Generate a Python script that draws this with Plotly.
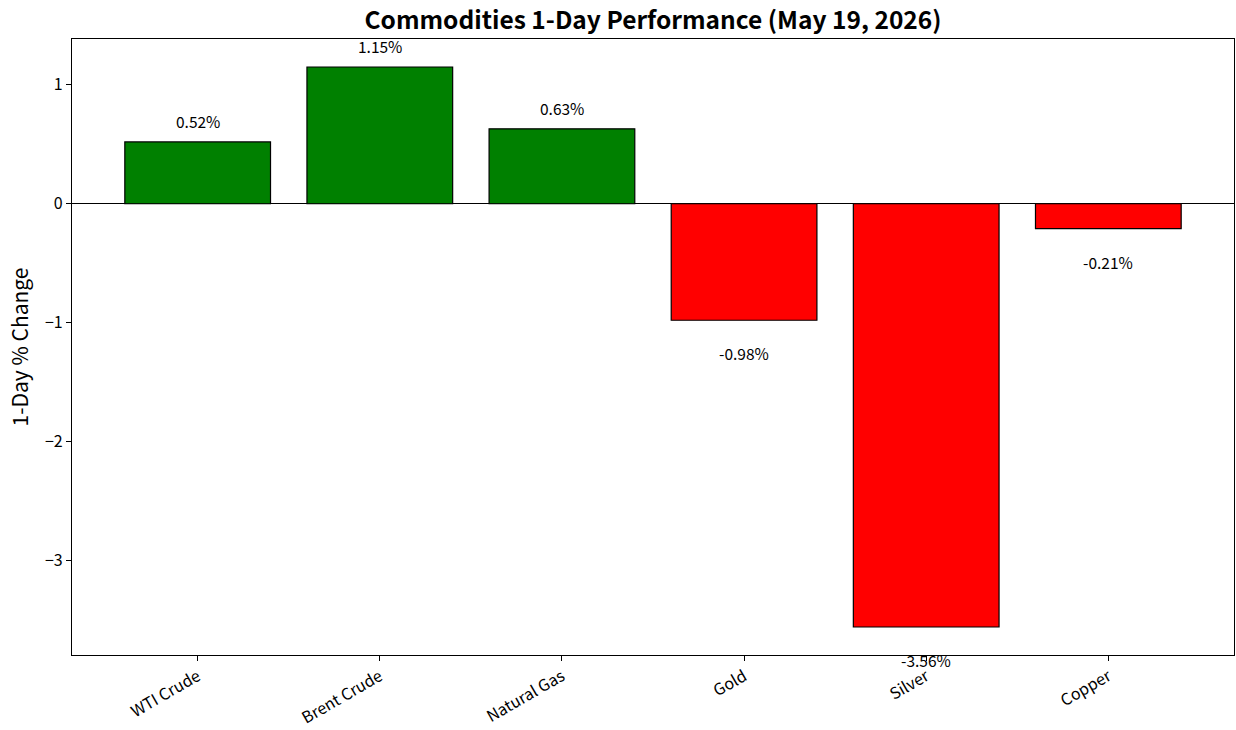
import plotly.graph_objects as go

categories = ["WTI Crude", "Brent Crude", "Natural Gas", "Gold", "Silver", "Copper"]
changes = [0.52, 1.15, 0.63, -0.98, -3.56, -0.21]
y_tick_vals = [-3, -2, -1, 0, 1]
y_tick_text = ["\u22123", "\u22122", "\u22121", "0", "1"]
title_text = "Commodities 1-Day Performance (May 19, 2026)"
y_title = "1-Day % Change"

FONT = "Noto Sans CJK JP"
colors = ["#008000" if v >= 0 else "#FF0000" for v in changes]
xs = list(range(len(categories)))

fig = go.Figure()
fig.add_trace(go.Bar(
    x=xs, y=changes, width=0.8,
    marker=dict(color=colors, line=dict(color="black", width=1.2)),
    hoverinfo="skip",
))

for i, v in enumerate(changes):
    fig.add_annotation(
        x=i, y=v, yshift=21 if v >= 0 else -33,
        text=f"{v:.2f}%", showarrow=False,
        xanchor="center", yanchor="middle",
        font=dict(family=FONT, size=15.5, color="black"),
    )

ymin, ymax = min(min(changes), 0), max(max(changes), 0)
pad = (ymax - ymin) * 0.05
fig.update_layout(
    width=1236, height=730,
    margin=dict(l=72, r=2, t=39, b=75),
    paper_bgcolor="white", plot_bgcolor="white",
    showlegend=False,
    title=dict(text=f"<b>{title_text}</b>", x=0.5, xref="paper", xanchor="center",
               y=1 - 20 / 730, yanchor="middle",
               font=dict(family=FONT, size=24.5, color="black")),
    font=dict(family=FONT, color="black"),
    xaxis=dict(
        range=[-0.69, len(categories) - 1 + 0.69],
        tickvals=xs, ticktext=categories, tickangle=-30,
        showline=True, mirror=True, linecolor="black", linewidth=1.2,
        ticks="outside", ticklen=5, tickcolor="black", tickwidth=1.2,
        showgrid=False, zeroline=False, automargin=False,
        tickfont=dict(family=FONT, size=16, color="black"),
    ),
    yaxis=dict(
        range=[ymin - pad, ymax + pad],
        tickvals=y_tick_vals, ticktext=y_tick_text,
        showline=True, mirror=True, linecolor="black", linewidth=1.2,
        ticks="outside", ticklen=5, tickcolor="black", tickwidth=1.2,
        showgrid=False, zeroline=True, zerolinecolor="black", zerolinewidth=1.2,
        automargin=False,
        tickfont=dict(family=FONT, size=16, color="black"),
        title=dict(text=y_title, font=dict(family=FONT, size=21, color="black"), standoff=10),
    ),
)

fig.write_html("out.html")
